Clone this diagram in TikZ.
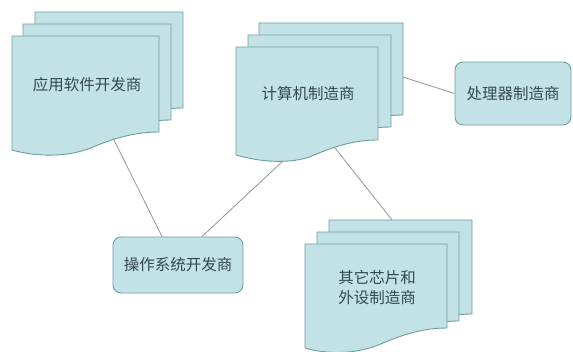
\documentclass[tikz,border=0pt]{standalone}
\usepackage{fontspec}
\setmainfont{Noto Sans CJK SC}
\usepackage{xcolor}
\usepackage{tikz}
\usetikzlibrary{calc}
\definecolor{sheetfill}{HTML}{C2E2E6}
\definecolor{sheetline}{HTML}{6E9CA2}
\definecolor{textgray}{HTML}{34494D}
\definecolor{linkgray}{HTML}{8C9898}
\tikzset{
    sheet/.style={fill=sheetfill, draw=sheetline, line width=0.9pt},
    tag/.style={rectangle, rounded corners=8pt, fill=sheetfill, draw=sheetline, line width=0.9pt, text=textgray, inner sep=0pt, font=\fontsize{15.5}{20}\selectfont},
    txt/.style={text=textgray, font=\fontsize{15.5}{20}\selectfont, align=center},
    link/.style={draw=linkgray, line width=0.8pt}
}
% one page of a stack: x, y, width, right height, left height
\newcommand{\docsheet}[5]{%
    \filldraw[sheet] (#1,#2) -- ++(#3,0) -- ++(0,#4)
        .. controls +(-0.16*#3,0) and +(0.15*#3,-9) .. ++(-0.45*#3,15)
        .. controls +(-0.12*#3,8) and +(0.22*#3,9) .. (#1,#2+#5) -- cycle;}

\begin{document}
\begin{tikzpicture}[x=1pt, y=-1pt]
    \useasboundingbox (0,0) rectangle (573,351);
    % application software
    \docsheet{35}{12}{148}{96}{114}
    \docsheet{23}{24}{148}{96}{114}
    \docsheet{12}{36}{147}{96}{114}
    \node[txt] (app) at (87,85) {应用软件开发商};
    % computer makers
    \docsheet{259}{23}{144}{92}{108}
    \docsheet{248}{35}{143}{92}{108}
    \docsheet{236}{47}{142}{93}{108}
    \node[txt] (pc) at (308,94) {计算机制造商};
    % chips and peripherals
    \docsheet{329}{220}{143}{94}{112}
    \docsheet{317}{232}{142}{89}{108}
    \docsheet{305}{244}{142}{84}{104}
    \node[txt] (chip) at (377,288) {其它芯片和\\外设制造商};
    % rounded boxes
    \node[tag, minimum width=116pt, minimum height=63pt] (cpu) at (513,93.5) {处理器制造商};
    \node[tag, minimum width=130pt, minimum height=56pt] (os) at (178,265) {操作系统开发商};
    % connectors
    \coordinate (app-foot) at (113,138);
    \coordinate (pc-foot) at (283,161);
    \coordinate (pc-heel) at (335,148);
    \coordinate (pc-side) at (403,77);
    \coordinate (chip-top) at (392,220);
    \draw[link] (app-foot) -- ([xshift=-16pt]os.north);
    \draw[link] (pc-foot) -- ([xshift=24pt]os.north);
    \draw[link] (pc-heel) -- (chip-top);
    \draw[link] (pc-side) -- (cpu.west);
\end{tikzpicture}
\end{document}
